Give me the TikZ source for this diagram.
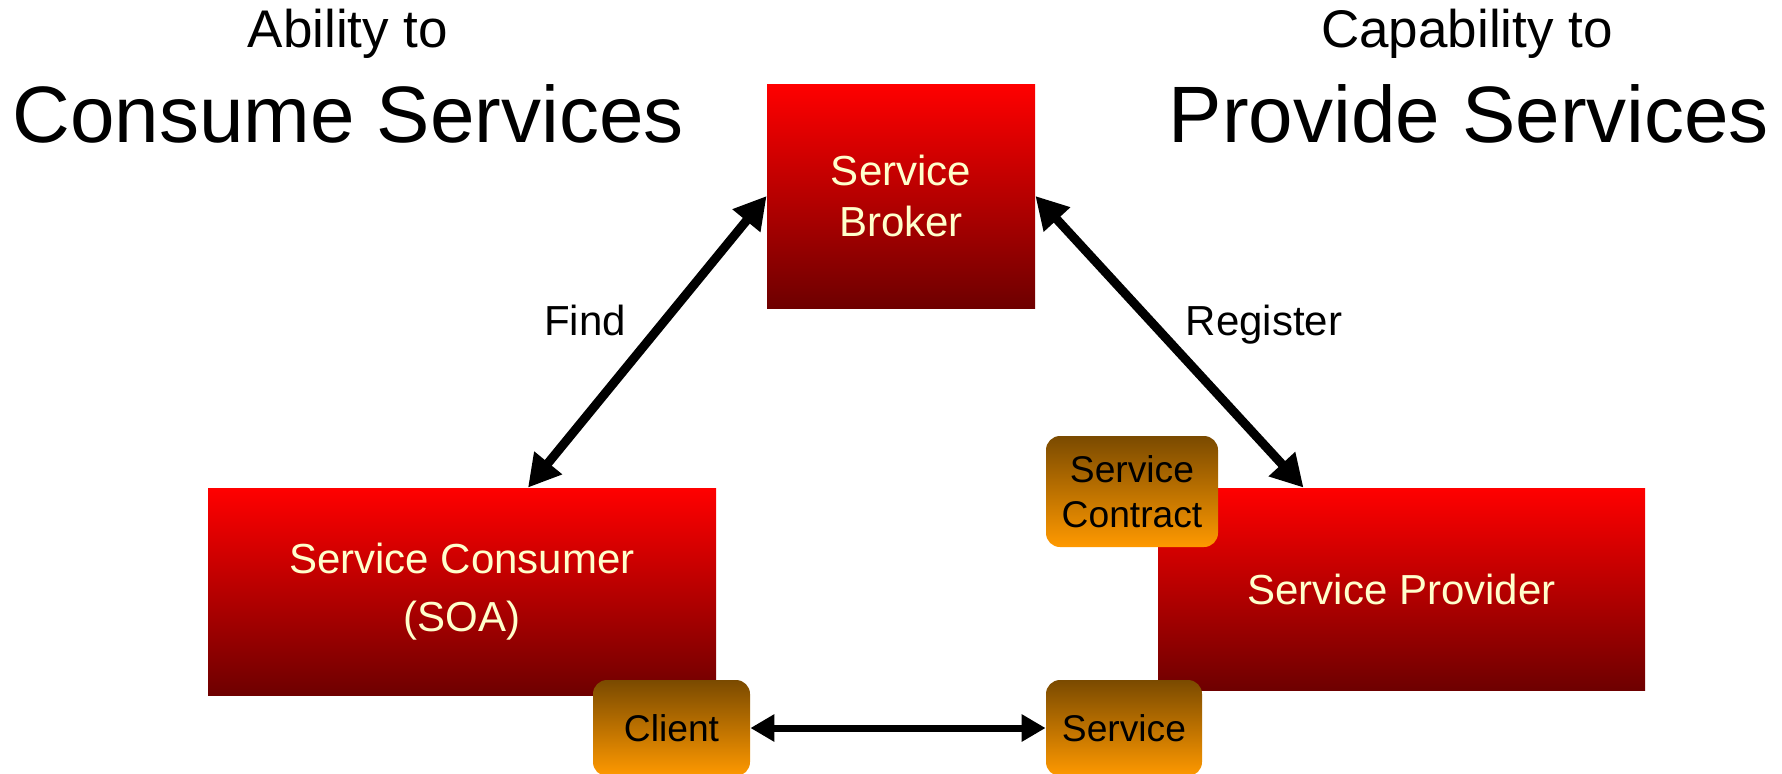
\documentclass[tikz,border=0pt]{standalone}
\usepackage{fontspec}
\setmainfont{Liberation Sans}
\usetikzlibrary{arrows.meta,calc}

\definecolor{redtop}{HTML}{FF0000}
\definecolor{redbot}{HTML}{6E0000}
\definecolor{ortop}{HTML}{7A4A00}
\definecolor{orbot}{HTML}{FF9900}
\definecolor{cream}{HTML}{FFFFCC}

\tikzset{
  redbox/.style={rectangle, inner sep=0pt, top color=redtop, bottom color=redbot,
    draw=none, text=cream, align=center, font=\fontsize{21}{25.7}\selectfont},
  orbox/.style={rectangle, rounded corners=7pt, inner sep=0pt, top color=ortop,
    bottom color=orbot, draw=none, text=black, align=center,
    font=\fontsize{18.6}{22.5}\selectfont},
  bigarr/.style={line width=4.5pt, {Triangle[length=16pt,width=17pt]}-{Triangle[length=16pt,width=17pt]}},
  smallarr/.style={line width=3.5pt, {Triangle[length=12pt,width=13pt]}-{Triangle[length=12pt,width=13pt]}},
  label/.style={font=\fontsize{21}{25}\selectfont},
}

\begin{document}
\begin{tikzpicture}[x=0.5pt,y=0.5pt,yscale=-1,xscale=1]
\useasboundingbox (0,0) rectangle (1782,773);

% titles
\node (abil) at (348,34) {\fontsize{26.5}{30}\selectfont Ability to};
\node (consume) at (348,114) {\fontsize{40}{44}\selectfont Consume Services};
\node (capab) at (1467,34) {\fontsize{26.5}{30}\selectfont Capability to};
\node (provide) at (1469,114) {\fontsize{40}{44}\selectfont Provide Services};

% main boxes
\node [redbox, minimum width=134pt, minimum height=112pt] (broker) at (901,196) {Service\\Broker};
\node [redbox, minimum width=254pt, minimum height=103.5pt] (consumer) at (462,591.5) {Service Consumer\\[3.5pt](SOA)};
\node [redbox, minimum width=243.5pt, minimum height=101pt] (provider) at (1401.5,589) {Service Provider};

% small boxes
\node [orbox, minimum width=86pt, minimum height=55.5pt] (contract) at (1132,491.5) {Service\\Contract};
\node [orbox, minimum width=78.5pt, minimum height=48pt] (client) at (671.5,728) {Client};
\node [orbox, minimum width=78pt, minimum height=48pt] (service) at (1124,728) {Service};

% arrows
\draw [bigarr] (broker.west) -- ($(consumer.north)+(66,0)$);
\draw [bigarr] (broker.east) -- ($(provider.north)+(-98,0)$);
\draw [smallarr] (client.east) -- (service.west);

% labels
\node [label] (find) at (585,320) {Find};
\node [label] (register) at (1264,325) {Register};

\end{tikzpicture}
\end{document}
